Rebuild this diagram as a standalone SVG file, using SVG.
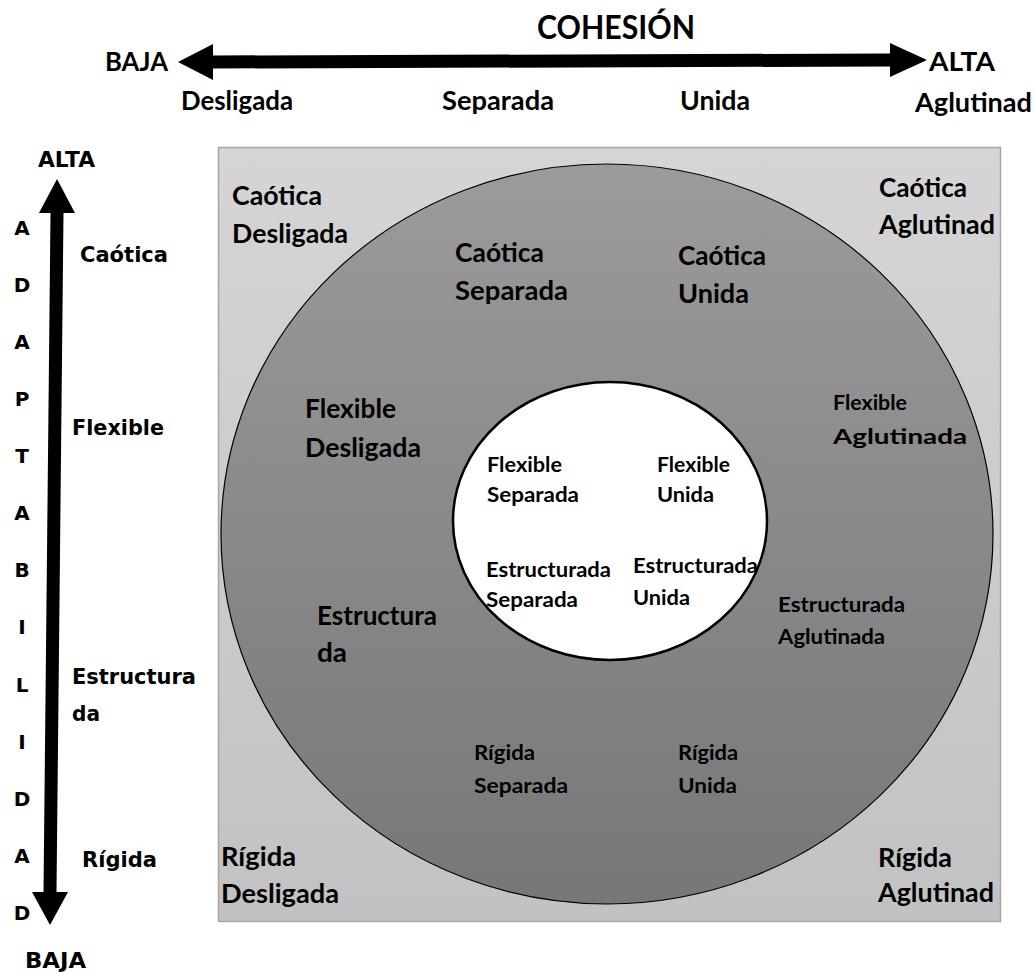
<svg xmlns="http://www.w3.org/2000/svg" width="1034" height="973" viewBox="0 0 1034 973">
<defs>
<linearGradient id="sq" x1="0" y1="0" x2="0" y2="1">
<stop offset="0" stop-color="#d5d5d5"/>
<stop offset="1" stop-color="#c2c2c2"/>
</linearGradient>
<linearGradient id="ring" x1="0" y1="0" x2="0" y2="1">
<stop offset="0" stop-color="#9b9b9b"/>
<stop offset="1" stop-color="#777777"/>
</linearGradient>
<style>
.c{font-family:Lato,"Liberation Sans",sans-serif;font-weight:700;fill:#000}
.L{font-size:26px}
.M{font-size:21px}
.v{font-family:"DejaVu Sans",Verdana,sans-serif;font-weight:700;fill:#000;font-size:21px}
.ltr{font-size:20px}
.arrow{fill:#000;stroke:none}
</style>
</defs>
<rect width="1034" height="973" fill="#fff"/>

<g id="square">
<rect x="218.5" y="147.5" width="782" height="774" fill="url(#sq)" stroke="#a6a6a6" stroke-width="1.5"/>
</g>
<g id="outer-ring">
<ellipse cx="607" cy="534" rx="386" ry="370" fill="url(#ring)" stroke="#000" stroke-width="1.2"/>
</g>
<g id="inner-circle">
<ellipse cx="610" cy="521" rx="157" ry="139" fill="#fff" stroke="#000" stroke-width="2.5"/>
</g>

<g id="connectors">
<polygon class="arrow" points="178,62 213,44 213,55.5 890,53.5 890,43 927,60 890,77 890,66.5 213,68.5 213,80"/>
<polygon class="arrow" points="57,179 75,213 63.5,213 56.5,892 68,892 50,925 32,892 43.5,892 50.5,213 39,213"/>
</g>

<g id="cohesion-axis">
<text class="c" x="537" y="39" font-size="32" textLength="158" lengthAdjust="spacingAndGlyphs">COHESIÓN</text>
<text class="c L" x="105" y="71" textLength="63" lengthAdjust="spacingAndGlyphs">BAJA</text>
<text class="c L" x="929" y="71" textLength="66" lengthAdjust="spacingAndGlyphs">ALTA</text>
<text class="c L" x="181" y="110" textLength="112" lengthAdjust="spacingAndGlyphs">Desligada</text>
<text class="c L" x="442" y="110" textLength="112" lengthAdjust="spacingAndGlyphs">Separada</text>
<text class="c L" x="680" y="110" textLength="70" lengthAdjust="spacingAndGlyphs">Unida</text>
<text class="c L" x="915" y="112" textLength="117" lengthAdjust="spacingAndGlyphs">Aglutinad</text>
</g>

<g id="adaptability-axis">
<text class="v" x="38" y="167" font-size="18" textLength="57" lengthAdjust="spacingAndGlyphs">ALTA</text>
<g text-anchor="middle">
<text class="v ltr" x="22" y="235">A</text>
<text class="v ltr" x="22" y="292">D</text>
<text class="v ltr" x="22" y="349">A</text>
<text class="v ltr" x="22" y="406">P</text>
<text class="v ltr" x="22" y="463">T</text>
<text class="v ltr" x="22" y="520">A</text>
<text class="v ltr" x="22" y="577">B</text>
<text class="v ltr" x="22" y="634">I</text>
<text class="v ltr" x="22" y="692">L</text>
<text class="v ltr" x="22" y="749">I</text>
<text class="v ltr" x="22" y="806">D</text>
<text class="v ltr" x="22" y="863">A</text>
<text class="v ltr" x="22" y="920">D</text>
</g>
<text class="v" x="80" y="262" textLength="88" lengthAdjust="spacingAndGlyphs">Caótica</text>
<text class="v" x="72" y="435" textLength="92" lengthAdjust="spacingAndGlyphs">Flexible</text>
<text class="v" x="72" y="684" textLength="124" lengthAdjust="spacingAndGlyphs">Estructura</text>
<text class="v" x="72" y="721" textLength="28" lengthAdjust="spacingAndGlyphs">da</text>
<text class="v" x="82" y="867" textLength="75" lengthAdjust="spacingAndGlyphs">Rígida</text>
<text class="v" x="25" y="968" textLength="61" lengthAdjust="spacingAndGlyphs">BAJA</text>
</g>

<g id="caotica-desligada">
<text class="c L" x="232" y="205" textLength="90" lengthAdjust="spacingAndGlyphs">Caótica</text>
<text class="c L" x="232" y="243" textLength="116" lengthAdjust="spacingAndGlyphs">Desligada</text>
</g>
<g id="caotica-separada">
<text class="c L" x="455" y="262" textLength="89" lengthAdjust="spacingAndGlyphs">Caótica</text>
<text class="c L" x="455" y="300" textLength="113" lengthAdjust="spacingAndGlyphs">Separada</text>
</g>
<g id="caotica-unida">
<text class="c L" x="678" y="265" textLength="88" lengthAdjust="spacingAndGlyphs">Caótica</text>
<text class="c L" x="678" y="303" textLength="71" lengthAdjust="spacingAndGlyphs">Unida</text>
</g>
<g id="caotica-aglutinad">
<text class="c L" x="879" y="197" textLength="88" lengthAdjust="spacingAndGlyphs">Caótica</text>
<text class="c L" x="879" y="234" textLength="116" lengthAdjust="spacingAndGlyphs">Aglutinad</text>
</g>
<g id="flexible-desligada">
<text class="c L" x="305" y="418" textLength="91" lengthAdjust="spacingAndGlyphs">Flexible</text>
<text class="c L" x="305" y="457" textLength="116" lengthAdjust="spacingAndGlyphs">Desligada</text>
</g>
<g id="flexible-aglutinada">
<text class="c M" x="833" y="410" textLength="74" lengthAdjust="spacingAndGlyphs">Flexible</text>
<text class="c M" x="833" y="444" textLength="134" lengthAdjust="spacingAndGlyphs">Aglutinada</text>
</g>
<g id="flexible-separada">
<text class="c M" x="487" y="472" textLength="75" lengthAdjust="spacingAndGlyphs">Flexible</text>
<text class="c M" x="487" y="502" textLength="92" lengthAdjust="spacingAndGlyphs">Separada</text>
</g>
<g id="flexible-unida">
<text class="c M" x="657" y="472" textLength="73" lengthAdjust="spacingAndGlyphs">Flexible</text>
<text class="c M" x="657" y="502" textLength="57" lengthAdjust="spacingAndGlyphs">Unida</text>
</g>
<g id="estructurada-separada">
<text class="c M" x="486" y="577" textLength="125" lengthAdjust="spacingAndGlyphs">Estructurada</text>
<text class="c M" x="486" y="607" textLength="92" lengthAdjust="spacingAndGlyphs">Separada</text>
</g>
<g id="estructurada-unida">
<text class="c M" x="633" y="573" textLength="125" lengthAdjust="spacingAndGlyphs">Estructurada</text>
<text class="c M" x="633" y="605" textLength="57" lengthAdjust="spacingAndGlyphs">Unida</text>
</g>
<g id="estructurada">
<text class="c L" x="317" y="625" textLength="120" lengthAdjust="spacingAndGlyphs">Estructura</text>
<text class="c L" x="317" y="662" textLength="30" lengthAdjust="spacingAndGlyphs">da</text>
</g>
<g id="estructurada-aglutinada">
<text class="c M" x="778" y="612" textLength="127" lengthAdjust="spacingAndGlyphs">Estructurada</text>
<text class="c M" x="778" y="644" textLength="107" lengthAdjust="spacingAndGlyphs">Aglutinada</text>
</g>
<g id="rigida-separada">
<text class="c M" x="474" y="760" textLength="61" lengthAdjust="spacingAndGlyphs">Rígida</text>
<text class="c M" x="474" y="793" textLength="94" lengthAdjust="spacingAndGlyphs">Separada</text>
</g>
<g id="rigida-unida">
<text class="c M" x="678" y="760" textLength="60" lengthAdjust="spacingAndGlyphs">Rígida</text>
<text class="c M" x="678" y="793" textLength="59" lengthAdjust="spacingAndGlyphs">Unida</text>
</g>
<g id="rigida-desligada">
<text class="c L" x="221" y="866" textLength="75" lengthAdjust="spacingAndGlyphs">Rígida</text>
<text class="c L" x="221" y="903" textLength="118" lengthAdjust="spacingAndGlyphs">Desligada</text>
</g>
<g id="rigida-aglutinad">
<text class="c L" x="878" y="867" textLength="74" lengthAdjust="spacingAndGlyphs">Rígida</text>
<text class="c L" x="878" y="902" textLength="116" lengthAdjust="spacingAndGlyphs">Aglutinad</text>
</g>
</svg>
